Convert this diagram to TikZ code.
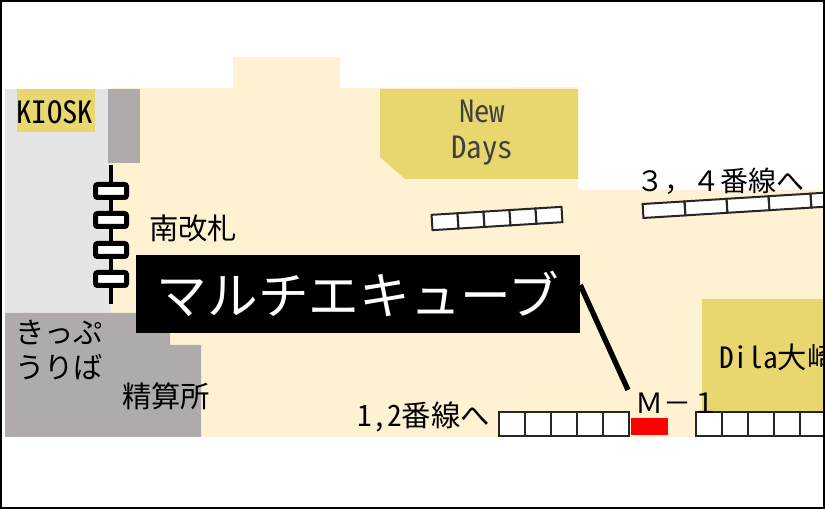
\documentclass[tikz,border=0pt]{standalone}
\usepackage{fontspec}
\setmainfont{Noto Sans CJK JP}
\newfontfamily\hwfont[RawFeature=+hwid]{Noto Sans CJK JP}
\usetikzlibrary{positioning}
\definecolor{floorcol}{HTML}{FFF2D2}
\definecolor{paleg}{HTML}{E6E5E5}
\definecolor{darkg}{HTML}{AFABAB}
\definecolor{shopcol}{HTML}{E8D76F}
\tikzset{
  label/.style={inner sep=0pt,text=black,align=center,font=\fontsize{22pt}{26pt}\selectfont},
  shoptext/.style={label,text=black!75,font=\hwfont\fontsize{23pt}{27pt}\selectfont},
  gate/.style={draw,fill=white,rounded corners=1.5pt,line width=3.75pt,minimum width=23.25pt,minimum height=9.75pt,inner sep=0pt},
  cell/.style={draw=black!85,fill=white,line width=1.5pt,inner sep=0pt,minimum width=19.5pt,minimum height=17.5pt},
  slant/.style={cell,rotate=3.5,minimum height=11.5pt},
  wide/.style={slant,minimum width=31.5pt,minimum height=10.5pt}
}
\begin{document}
\begin{tikzpicture}[x=0.75pt,y=-0.75pt]
  \useasboundingbox (0,0) rectangle (825,509);
  \begin{scope}
    \clip (2,2) rectangle (823,507);
    % floor
    \fill[floorcol] (111,88) -- (233,88) -- (233,57) -- (340,57) -- (340,88) -- (578,87)
      -- (578,190) -- (825,190) -- (825,437) -- (111,437) -- cycle;
    \fill[paleg] (5,89) rectangle (111,313);
    \fill[darkg] (108,89) rectangle (140,163);
    \fill[darkg] (5,313) -- (136,313) -- (136,333) -- (170,333) -- (170,345) -- (201,345)
      -- (201,437) -- (5,437) -- cycle;
    % shops
    \fill[shopcol] (17,89) rectangle (95,132);
    \fill[shopcol] (380,89) -- (578,89) -- (578,179) -- (405,179) -- (380,157) -- cycle;
    \fill[shopcol] (702,299) rectangle (825,437);

    \node[label,font=\hwfont\fontsize{23pt}{27pt}\selectfont] (kiosk) at (55,112) {KIOSK};
    \node[shoptext] (newdays) at (482,133) {New\\Days};
    \node[label,anchor=west,font=\hwfont\fontsize{22pt}{26pt}\selectfont] (dila) at (719,357) {Dila大崎};

    % gates
    \coordinate (gatetop) at (111,165);
    \coordinate (gatebot) at (111,304);
    \draw[line width=3pt] (gatetop) -- (gatebot);
    \foreach \i/\y in {1/191,2/220,3/250,4/279}
      \node[gate] (gate\i) at (111,\y) {};

    \node[label] (south) at (193,228) {南改札};
    \node[label,anchor=west] (kippu) at (15,350) {きっぷ\\うりば};
    \node[label] (seisan) at (166,396) {精算所};
    \node[label,anchor=west,font=\fontsize{21pt}{26pt}\selectfont] (track34) at (636,181) {３，４番線へ};
    \node[label,anchor=east,font=\hwfont\fontsize{22pt}{26pt}\selectfont] (track12) at (490,417) {1,2番線へ};

    % benches
    \foreach \i in {0,...,4} {
      \node[slant] (upper\i) at ({445+\i*26},{221.7-\i*1.6}) {};
      \node[cell] (left\i) at ({512+\i*26},424) {};
      \node[cell] (right\i) at ({709+\i*26},424) {};
    }
    \foreach \i in {0,...,4}
      \node[wide] (far\i) at ({664+\i*42},{209.7-\i*2.6}) {};

    \fill[red] (631,418) rectangle (668,435);
    \node[label,font=\fontsize{21pt}{26pt}\selectfont] (mone) at (677,403) {Ｍ－１};

    % title and its lead
    \node[fill=black,text=white,inner sep=0pt,minimum width=333pt,minimum height=58.5pt,
      font=\fontsize{38pt}{46pt}\selectfont] (title) at (358,294) {マルチエキューブ};
    \coordinate (leadend) at (628,390);
    \draw[line width=4pt] ([yshift=6.75pt]title.east) -- (leadend);
  \end{scope}
  \draw[line width=1.5pt] (1,1) rectangle (824,508);
\end{tikzpicture}
\end{document}
